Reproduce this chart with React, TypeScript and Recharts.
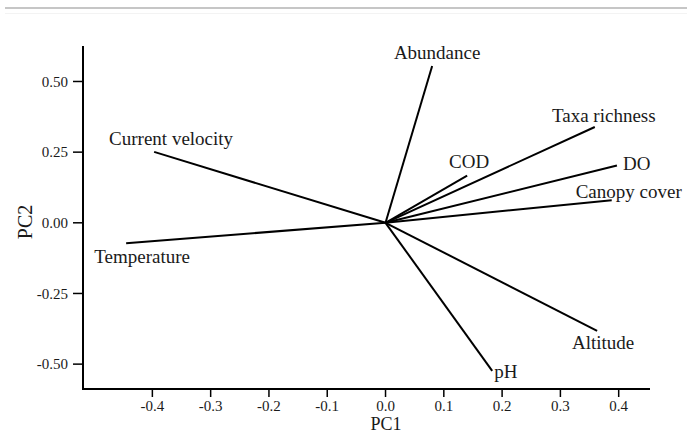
import { ScatterChart, Scatter, XAxis, YAxis, Label } from 'recharts';

// PCA loadings for each environmental / biological variable
const variables = ['Abundance', 'Taxa richness', 'DO', 'Canopy cover', 'COD', 'Current velocity', 'Temperature', 'pH', 'Altitude'];
const pc1 = [0.080, 0.359, 0.397, 0.388, 0.140, -0.397, -0.445, 0.183, 0.363];
const pc2 = [0.555, 0.339, 0.203, 0.080, 0.167, 0.251, -0.072, -0.524, -0.382];

const xTicks = [-0.4, -0.3, -0.2, -0.1, 0.0, 0.1, 0.2, 0.3, 0.4];
const yTicks = [-0.5, -0.25, 0, 0.25, 0.5];

// where each arrow's name sits relative to its tip
const labelPlacement: Record<string, { dx: number; dy: number; anchor: 'start' | 'middle' | 'end' }> = {
  'Abundance': { dx: 5, dy: -13, anchor: 'middle' },
  'Taxa richness': { dx: 9, dy: -11, anchor: 'middle' },
  'DO': { dx: 6, dy: -2, anchor: 'start' },
  'Canopy cover': { dx: 17, dy: -9, anchor: 'middle' },
  'COD': { dx: 2, dy: -14, anchor: 'middle' },
  'Current velocity': { dx: 17, dy: -13, anchor: 'middle' },
  'Temperature': { dx: 16, dy: 13, anchor: 'middle' },
  'pH': { dx: 2, dy: 1, anchor: 'start' },
  'Altitude': { dx: 6, dy: 12, anchor: 'middle' },
};

const FONT = '"Liberation Serif", "Times New Roman", serif';
const ink = '#1a1a1a';
const tickStyle = { fill: ink, fontSize: 15, fontFamily: FONT };
const axisLine = { stroke: '#000', strokeWidth: 2, strokeLinecap: 'square' as const };

const vectors = variables.map((name, i) => [
  { x: 0, y: 0 },
  { x: pc1[i], y: pc2[i], name },
]);

const renderTip = (props: any) => {
  const { cx, cy, payload } = props;
  if (!payload || !payload.name) return <g />;
  const p = labelPlacement[payload.name];
  return (
    <text
      x={cx + p.dx}
      y={cy + p.dy}
      textAnchor={p.anchor}
      dominantBaseline="central"
      style={{ fontFamily: FONT, fontSize: 19, fill: ink }}
    >
      {payload.name}
    </text>
  );
};

const xTitle = (props: any) => {
  const { viewBox } = props;
  const x = viewBox.x + viewBox.width / 2 + 20;
  const y = viewBox.y + viewBox.height - 4;
  return (
    <text x={x} y={y} textAnchor="middle" style={{ fontFamily: FONT, fontSize: 18, fill: ink }}>
      PC1
    </text>
  );
};

const yTitle = (props: any) => {
  const { viewBox } = props;
  const x = viewBox.x + 25;
  const y = viewBox.y + viewBox.height / 2 + 4;
  return (
    <text x={x} y={y} transform={`rotate(-90, ${x}, ${y})`} textAnchor="middle"
      dominantBaseline="central" style={{ fontFamily: FONT, fontSize: 20, fill: ink }}>
      PC2
    </text>
  );
};

export default function App() {
  return (
    <div style={{ position: 'absolute', left: 0, top: 0, width: 687, height: 434, background: '#fff' }}>
      <div style={{ position: 'absolute', left: 5, top: 7, width: 682, height: 2, background: '#c6c6c6' }} />
      <div style={{ position: 'absolute', left: 5, top: 13, width: 682, height: 1, background: '#f3f3f3' }} />
      <ScatterChart width={687} height={434} margin={{ top: 47, right: 38, bottom: 0, left: 0 }}>
        <XAxis
          type="number"
          dataKey="x"
          domain={[-0.519, 0.452]}
          ticks={xTicks}
          tickFormatter={(v: number) => v.toFixed(1)}
          tick={tickStyle}
          tickSize={8}
          tickMargin={3}
          tickLine={{ stroke: '#000', strokeWidth: 1.5 }}
          axisLine={axisLine}
          height={45}
        >
          <Label content={xTitle} />
        </XAxis>
        <YAxis
          type="number"
          dataKey="y"
          domain={[-0.588, 0.622]}
          ticks={yTicks}
          tickFormatter={(v: number) => v.toFixed(2)}
          tick={tickStyle}
          tickSize={10}
          tickMargin={5}
          tickLine={{ stroke: '#000', strokeWidth: 1.5 }}
          axisLine={axisLine}
          width={83}
        >
          <Label content={yTitle} />
        </YAxis>
        {vectors.map((data, i) => (
          <Scatter
            key={variables[i]}
            data={data}
            line={{ stroke: '#000', strokeWidth: 2 }}
            shape={renderTip}
            isAnimationActive={false}
          />
        ))}
      </ScatterChart>
    </div>
  );
}
